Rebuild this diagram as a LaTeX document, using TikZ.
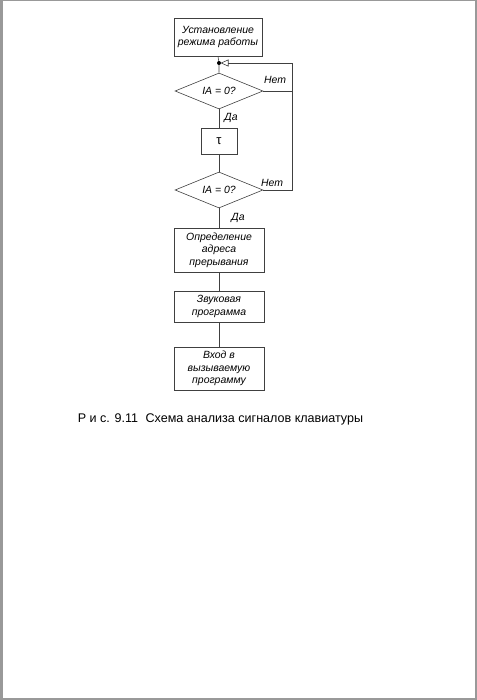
\documentclass[tikz,border=0pt]{standalone}
\usepackage{fontspec}
\setmainfont{Liberation Sans}
\usetikzlibrary{shapes.geometric,arrows.meta}
\begin{document}
\begin{tikzpicture}[x=1bp,y=-1bp,
  every node/.style={font=\fontsize{10.5}{12.5}\selectfont\itshape},
  box/.style={draw=black!75, line width=0.6bp, align=center, inner sep=0pt, minimum width=90bp},
  dia/.style={draw=black!75, line width=0.6bp, diamond, inner sep=0pt, minimum width=88bp, minimum height=36bp},
  conn/.style={draw=black!75, line width=0.6bp},
  lbl/.style={font=\fontsize{10.5}{12.5}\selectfont\itshape, inner sep=0pt}]
\useasboundingbox (0,0) rectangle (477,700);
\draw[black!40, line width=2bp] (1.5,0.5) -- (475.5,0.5) -- (475.5,698.5) -- (1.5,698.5) -- cycle;
\node[box, minimum width=88bp, minimum height=38bp] (b1) at (218,37) {Установление\\режима работы};
\coordinate (j) at (219,63);
\node[dia] (d1) at (219,91) {};
\node[lbl] at (d1) {IA = 0?};
\node[box, minimum width=36bp, minimum height=26bp, font=\fontsize{13}{14}\selectfont] (t) at (219,141) {τ};
\node[dia] (d2) at (219,190) {};
\node[lbl] at (d2) {IA = 0?};
\node[box, minimum height=44bp] (b2) at (219,250) {Определение\\адреса\\прерывания};
\node[box, minimum height=31bp] (b3) at (219,306.5) {Звуковая\\программа};
\node[box, minimum height=43bp] (b4) at (219,368.5) {Вход в\\вызываемую\\программу};
\coordinate (r1) at (292,91);
\coordinate (r2) at (292,190);
\coordinate (rt) at (292,63);
\draw[conn] (b1.south) -- (j) -- (d1.north);
\fill[black] (j) circle (2bp);
\draw[conn] (d1.south) -- (t.north);
\draw[conn] (t.south) -- (d2.north);
\draw[conn] (d2.south) -- (b2.north);
\draw[conn] (b2.south) -- (b3.north);
\draw[conn] (b3.south) -- (b4.north);
\draw[conn] (d1.east) -- (r1);
\draw[conn, -{Triangle[open, length=8bp, width=7bp]}, shorten >=1.5bp] (d2.east) -- (r2) -- (rt) -- (j);
\node[lbl] at (275,80) {Нет};
\node[lbl] at (272,183) {Нет};
\node[lbl] at (231,118) {Да};
\node[lbl] at (238,218) {Да};
\node[inner sep=0pt, font=\fontsize{12.6}{14}\selectfont] (cap) at (220.5,419) {Р и с. 9.11\hspace{0.6em}Схема анализа сигналов клавиатуры};
\end{tikzpicture}
\end{document}
